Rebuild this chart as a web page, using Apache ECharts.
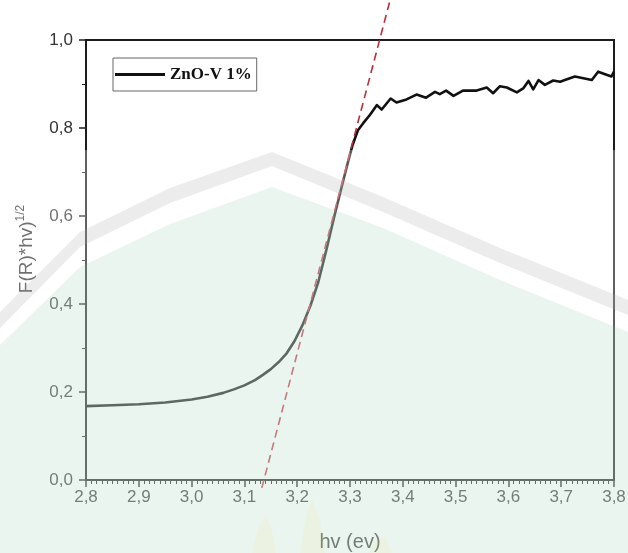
<!DOCTYPE html>
<html>
<head>
<meta charset="utf-8">
<style>
  html, body { margin: 0; padding: 0; background: #ffffff; }
  #chart { width: 628px; height: 553px; }
</style>
<script src="https://cdn.jsdelivr.net/npm/echarts@6/dist/echarts.min.js"></script>
</head>
<body>
<div id="chart"></div>
<script>
// Photon energy (eV)
const hv = [
  2.80, 2.85, 2.90, 2.95, 3.00, 3.03, 3.06, 3.08, 3.10, 3.12, 3.135, 3.15, 3.165,
  3.18, 3.195, 3.21, 3.225, 3.24, 3.255, 3.27, 3.285, 3.296, 3.305, 3.315, 3.325,
  3.338, 3.351, 3.360, 3.377, 3.388, 3.407, 3.426, 3.444, 3.461, 3.470, 3.482,
  3.496, 3.514, 3.540, 3.559, 3.571, 3.584, 3.597, 3.616, 3.628, 3.638, 3.647,
  3.657, 3.669, 3.685, 3.698, 3.707, 3.726, 3.742, 3.758, 3.770, 3.795, 3.800
];
// Kubelka-Munk transformed reflectance, (F(R)*hv)^(1/2)
const fr = [
  0.168, 0.170, 0.172, 0.176, 0.183, 0.189, 0.198, 0.206, 0.215, 0.227, 0.239, 0.252, 0.268,
  0.288, 0.316, 0.352, 0.396, 0.450, 0.522, 0.598, 0.670, 0.722, 0.762, 0.795, 0.811,
  0.830, 0.852, 0.842, 0.867, 0.858, 0.865, 0.876, 0.869, 0.882, 0.877, 0.885,
  0.873, 0.885, 0.885, 0.892, 0.879, 0.895, 0.892, 0.881, 0.890, 0.907, 0.888,
  0.909, 0.898, 0.908, 0.905, 0.909, 0.917, 0.913, 0.909, 0.928, 0.917, 0.928
];
// Linear fit of the absorption edge (Tauc extrapolation)
const fitHv = [3.133, 3.376];
const fitFr = [-0.018, 1.091];

const seriesName = 'ZnO-V 1%';
const xTicks = { min: 2.8, max: 3.8, step: 0.1 };
const yTicks = { min: 0.0, max: 1.0, step: 0.2 };

const comma = v => v.toFixed(1).replace('.', ',');

const chart = echarts.init(document.getElementById('chart'), null, { renderer: 'canvas' });

const axisColor = '#1c1c1c';
const sans = 'Liberation Sans, Arial, sans-serif';
const labelFont = { color: '#333', fontSize: 17, fontFamily: sans };

chart.setOption({
  animation: false,
  backgroundColor: '#ffffff',
  grid: {
    left: 86, right: 14, top: 40, bottom: 73,
    containLabel: false, outerBoundsMode: 'none',
    show: true, borderColor: axisColor, borderWidth: 2, backgroundColor: 'transparent'
  },
  legend: {
    data: [seriesName],
    left: 113, top: 58,
    orient: 'horizontal',
    padding: [8, 5, 8, 2],
    itemWidth: 50, itemHeight: 3, itemGap: 5,
    icon: 'rect',
    borderColor: '#666', borderWidth: 1,
    textStyle: { color: '#111', fontSize: 17, fontWeight: 'bold', fontFamily: 'Liberation Serif, Times New Roman, serif' }
  },
  xAxis: {
    type: 'value',
    min: xTicks.min, max: xTicks.max, interval: xTicks.step,
    name: 'hv (ev)', nameLocation: 'middle', nameGap: 52,
    nameTextStyle: { color: '#333', fontSize: 20, fontFamily: sans },
    axisLine: { show: true, onZero: false, lineStyle: { color: axisColor, width: 2 } },
    axisTick: { show: true, inside: false, length: 7, lineStyle: { color: axisColor, width: 1.5 } },
    minorTick: { show: true, splitNumber: 10, length: 4, lineStyle: { color: axisColor, width: 1 } },
    axisLabel: Object.assign({ margin: 9, formatter: comma }, labelFont),
    splitLine: { show: false }
  },
  yAxis: {
    type: 'value',
    min: yTicks.min, max: yTicks.max, interval: yTicks.step,
    name: '{m|F(R)*hv)}{s|1/2}', nameLocation: 'middle', nameGap: 47, nameRotate: 90,
    nameTextStyle: {
      padding: [0, 0, 0, 22],
      rich: {
        m: { color: '#333', fontSize: 19, fontFamily: sans, lineHeight: 24 },
        s: { color: '#333', fontSize: 12, fontFamily: sans, verticalAlign: 'top', lineHeight: 24 }
      }
    },
    axisLine: { show: true, onZero: false, lineStyle: { color: axisColor, width: 2 } },
    axisTick: { show: true, inside: false, length: 7, lineStyle: { color: axisColor, width: 1.5 } },
    minorTick: { show: true, splitNumber: 2, length: 4, lineStyle: { color: axisColor, width: 1 } },
    axisLabel: Object.assign({ margin: 13, formatter: comma }, labelFont),
    splitLine: { show: false }
  },
  series: [
    {
      name: seriesName,
      type: 'line',
      data: hv.map((x, i) => [x, fr[i]]),
      showSymbol: false, symbol: 'none',
      lineStyle: { color: '#111', width: 2.6, join: 'round' },
      itemStyle: { color: '#111' },
      z: 3
    },
    {
      name: 'fit',
      type: 'line',
      data: fitHv.map((x, i) => [x, fitFr[i]]),
      showSymbol: false, symbol: 'none',
      clip: false,
      lineStyle: { color: '#bb2f38', width: 1.6, type: [8, 5] },
      z: 4
    }
  ],
  graphic: [
    // Faint emblem behind the lower part of the page: pale veil
    {
      type: 'rect', z: 100, silent: true,
      shape: { x: 0, y: 150, width: 628, height: 403 },
      style: { fill: 'rgba(255,255,255,0.3)' }
    },
    // grey arch band
    {
      type: 'polygon', z: 101, silent: true,
      shape: { points: [
        [0, 312], [80, 232], [170, 188], [272, 152], [383, 197], [500, 248], [628, 300],
        [628, 315], [500, 263], [383, 212], [272, 166], [170, 203], [80, 247], [0, 328]
      ] },
      style: { fill: 'rgba(170,170,170,0.22)' }
    },
    // pale green body
    {
      type: 'polygon', z: 101, silent: true,
      shape: { points: [
        [0, 345], [80, 267], [170, 224], [272, 187], [383, 228], [500, 280], [628, 332],
        [628, 553], [0, 553]
      ] },
      style: { fill: 'rgba(130,195,160,0.16)' }
    },
    // yellow flame marks near the foot of the emblem
    {
      type: 'polygon', z: 101, silent: true,
      shape: { points: [[252, 553], [258, 528], [266, 515], [272, 530], [276, 553]] },
      style: { fill: 'rgba(255,225,90,0.09)' }
    },
    {
      type: 'polygon', z: 101, silent: true,
      shape: { points: [[300, 553], [306, 515], [312, 498], [320, 520], [326, 553]] },
      style: { fill: 'rgba(255,225,90,0.09)' }
    },
    {
      type: 'polygon', z: 101, silent: true,
      shape: { points: [[368, 553], [375, 540], [385, 536], [392, 553]] },
      style: { fill: 'rgba(255,225,90,0.09)' }
    }
  ]
});
</script>
</body>
</html>
